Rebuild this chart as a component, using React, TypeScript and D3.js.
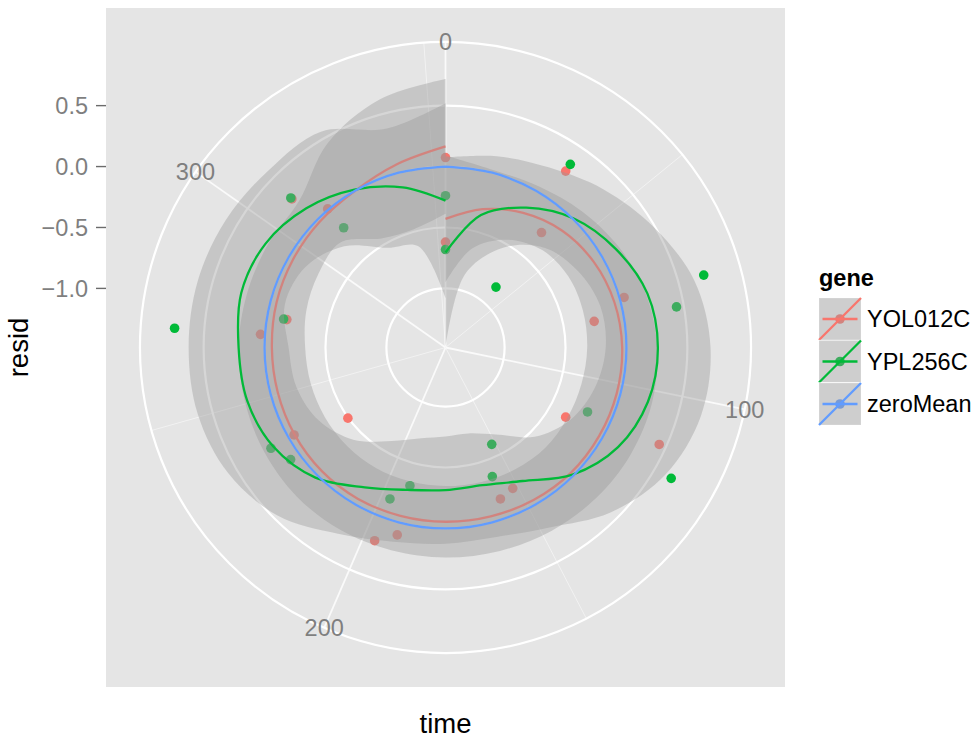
import React from 'react';
import * as d3 from 'd3';

// observed time points (same for both genes)
const pointTime = [0, 33.7, 39.2, 73.1, 78.7, 112.5, 118.1, 151.9, 157.4, 191.2, 196.8, 230.2, 236, 269.5, 275.3, 308.8, 314.3, 354];
const residYOL012C = [-0.62, 0.267, -0.256, 0.037, -0.246, 0.441, -0.345, -0.204, -0.163, 0.103, 0.204, -0.496, -0.05, 0.037, -0.163, 0.269, 0.008, 0.074];
const residYPL256C = [-0.681, 0.334, -0.839, 0.716, 0.44, -0.205, 0.656, -0.604, -0.358, -0.314, -0.161, 0.084, 0.169, 0.744, -0.136, 0.281, -0.195, -0.239];

// loess fits and confidence bands, read at these times
const smoothTime = [0, 14.75, 29.5, 44.25, 59, 73.75, 88.5, 103.25, 118, 132.75, 147.5, 162.25, 177, 191.75, 206.5, 221.25, 236, 250.75, 265.5, 280.25, 295, 309.75, 324.5, 339.25, 354];
const fitYOL012C = [-0.43, -0.31, -0.21, -0.13, -0.08, -0.05, -0.035, -0.03, -0.03, -0.03, -0.04, -0.05, -0.055, -0.055, -0.05, -0.05, -0.055, -0.06, -0.06, -0.05, -0.04, -0.025, 0.0, 0.07, 0.165];
const loYOL012C = [-0.95, -0.643, -0.463, -0.357, -0.32, -0.317, -0.322, -0.33, -0.33, -0.323, -0.333, -0.343, -0.348, -0.348, -0.343, -0.343, -0.342, -0.34, -0.333, -0.303, -0.28, -0.265, -0.45, -0.48, -0.388];
const hiYOL012C = [0.09, 0.023, 0.043, 0.097, 0.16, 0.217, 0.252, 0.27, 0.27, 0.263, 0.253, 0.243, 0.238, 0.238, 0.243, 0.243, 0.232, 0.22, 0.213, 0.203, 0.2, 0.215, 0.45, 0.62, 0.718];
const fitYPL256C = [-0.705, -0.36, -0.16, 0.01, 0.13, 0.23, 0.258, 0.235, 0.15, -0.01, -0.22, -0.315, -0.315, -0.275, -0.16, 0.025, 0.145, 0.2, 0.213, 0.25, 0.22, 0.13, 0.01, -0.125, -0.28];
const loYPL256C = [-1.485, -0.86, -0.54, -0.33, -0.23, -0.17, -0.17, -0.215, -0.3, -0.45, -0.66, -0.755, -0.755, -0.715, -0.6, -0.415, -0.285, -0.22, -0.197, -0.12, -0.16, -0.31, -0.54, -0.625, -1.08];
const hiYPL256C = [0.075, 0.14, 0.22, 0.35, 0.49, 0.63, 0.69, 0.685, 0.6, 0.43, 0.22, 0.125, 0.125, 0.165, 0.28, 0.465, 0.575, 0.62, 0.623, 0.62, 0.6, 0.57, 0.56, 0.375, 0.52];
const fitZeroMean = [0, 0, 0, 0, 0, 0, 0, 0, 0, 0, 0, 0, 0, 0, 0, 0, 0, 0, 0, 0, 0, 0, 0, 0, 0];

const genes = ['YOL012C', 'YPL256C', 'zeroMean'];
const geneColors = ['#F8766D', '#00BA38', '#619CFF'];
const thetaBreaks = [0, 100, 200, 300];
const thetaMinorBreaks = [50, 150, 250, 350];
const rBreaks = [-1.0, -0.5, 0.0, 0.5];

const FONT = '"Liberation Sans", Arial, Helvetica, sans-serif';

export default function App() {
  const width = 978;
  const height = 738;
  const panel = { x: 106, y: 8, w: 679, h: 679 };
  const cx = panel.x + panel.w / 2;
  const cy = panel.y + panel.h / 2;

  const theta = d3.scaleLinear()
    .domain(d3.extent(pointTime) as [number, number])
    .range([0, 2 * Math.PI]);

  const allValues = [...residYOL012C, ...residYPL256C, ...loYOL012C, ...hiYOL012C, ...loYPL256C, ...hiYPL256C];
  const rad = d3.scaleLinear()
    .domain(d3.extent(allValues) as [number, number])
    .range([0, 0.4 * panel.w]);
  const outerR = 0.45 * panel.w;

  const px = (t: number, v: number) => cx + rad(v) * Math.sin(theta(t));
  const py = (t: number, v: number) => cy - rad(v) * Math.cos(theta(t));

  const idx = d3.range(smoothTime.length);
  const ribbon = (lo: number[], hi: number[]) =>
    d3.areaRadial<number>()
      .angle(i => theta(smoothTime[i]))
      .innerRadius(i => rad(lo[i]))
      .outerRadius(i => rad(hi[i]))
      .curve(d3.curveCatmullRom)(idx) || '';
  const fitLine = (fit: number[]) =>
    d3.lineRadial<number>()
      .angle(i => theta(smoothTime[i]))
      .radius(i => rad(fit[i]))
      .curve(d3.curveCatmullRom)(idx) || '';

  const fmt = d3.format('.1f');
  const rayEnd = (t: number) => [cx + outerR * Math.sin(theta(t)), cy - outerR * Math.cos(theta(t))];

  const keySize = 42;
  const keyX = 819;
  const keyY0 = 298;

  return (
    <svg width={width} height={height} style={{ position: 'absolute', left: 0, top: 0, background: '#fff' }}
      fontFamily={FONT}>
      <rect x={panel.x} y={panel.y} width={panel.w} height={panel.h} fill="#E5E5E5" />

      {/* theta grid */}
      {thetaMinorBreaks.map(t => {
        const [x2, y2] = rayEnd(t);
        return <line key={'mn' + t} x1={cx} y1={cy} x2={x2} y2={y2} stroke="#F2F2F2" strokeWidth={1} />;
      })}
      {thetaBreaks.map(t => {
        const [x2, y2] = rayEnd(t);
        return <line key={'mj' + t} x1={cx} y1={cy} x2={x2} y2={y2} stroke="#FAFAFA" strokeWidth={1.8} />;
      })}
      {/* radius grid */}
      {rBreaks.map(v => (
        <circle key={'c' + v} cx={cx} cy={cy} r={rad(v)} fill="none" stroke="#FFFFFF" strokeWidth={2.2} />
      ))}
      <circle cx={cx} cy={cy} r={outerR} fill="none" stroke="#FFFFFF" strokeWidth={2.2} />

      {/* points */}
      {pointTime.map((t, i) => (
        <circle key={'pr' + i} cx={px(t, residYOL012C[i])} cy={py(t, residYOL012C[i])} r={4.8} fill={geneColors[0]} />
      ))}
      {pointTime.map((t, i) => (
        <circle key={'pg' + i} cx={px(t, residYPL256C[i])} cy={py(t, residYPL256C[i])} r={4.8} fill={geneColors[1]} />
      ))}

      {/* smooths */}
      <g transform={`translate(${cx},${cy})`}>
        <path d={ribbon(loYOL012C, hiYOL012C)} fill="#999999" fillOpacity={0.4} />
        <path d={fitLine(fitYOL012C)} fill="none" stroke={geneColors[0]} strokeWidth={2.3} />
        <path d={ribbon(loYPL256C, hiYPL256C)} fill="#999999" fillOpacity={0.4} />
        <path d={fitLine(fitYPL256C)} fill="none" stroke={geneColors[1]} strokeWidth={2.3} />
        <path d={fitLine(fitZeroMean)} fill="none" stroke={geneColors[2]} strokeWidth={2.3} />
      </g>

      {/* theta labels */}
      {thetaBreaks.map(t => {
        const [x, y] = rayEnd(t);
        return (
          <text key={'tl' + t} x={x} y={y} dy="0.35em" textAnchor="middle" fontSize={23.5} fill="#7F7F7F">{t}</text>
        );
      })}

      {/* radius axis */}
      {rBreaks.map(v => {
        const y = cy - rad(v);
        return (
          <g key={'ra' + v}>
            <line x1={panel.x - 10} x2={panel.x} y1={y} y2={y} stroke="#6B6B6B" strokeWidth={1.4} />
            <text x={panel.x - 18} y={y} dy="0.35em" textAnchor="end" fontSize={23.5} fill="#7F7F7F">{fmt(v)}</text>
          </g>
        );
      })}

      {/* axis titles */}
      <text x={cx} y={733} textAnchor="middle" fontSize={27.5} fill="#000">time</text>
      <text transform={`translate(28,${cy}) rotate(-90)`} textAnchor="middle" fontSize={27.5} fill="#000">resid</text>

      {/* legend */}
      <text x={keyX} y={286} fontSize={23.5} fontWeight="bold" fill="#000">gene</text>
      {genes.map((g, i) => {
        const y0 = keyY0 + i * (keySize + 0.5);
        const mid = y0 + keySize / 2;
        return (
          <g key={'lg' + g}>
            <rect x={keyX} y={y0} width={keySize} height={keySize} fill="#F2F2F2" stroke="#FFFFFF" strokeWidth={1.2} />
            <circle cx={keyX + keySize / 2} cy={mid} r={4.8} fill={geneColors[i]} />
            <rect x={keyX} y={y0} width={keySize} height={keySize} fill="#999999" fillOpacity={0.4} />
            <line x1={keyX + 3.5} x2={keyX + keySize - 3.5} y1={mid} y2={mid} stroke={geneColors[i]} strokeWidth={2.3} />
            <line x1={keyX} y1={y0 + keySize} x2={keyX + keySize} y2={y0} stroke={geneColors[i]} strokeWidth={2.3} />
            <text x={keyX + keySize + 6} y={mid} dy="0.35em" fontSize={23.5} fill="#000">{g}</text>
          </g>
        );
      })}
    </svg>
  );
}
